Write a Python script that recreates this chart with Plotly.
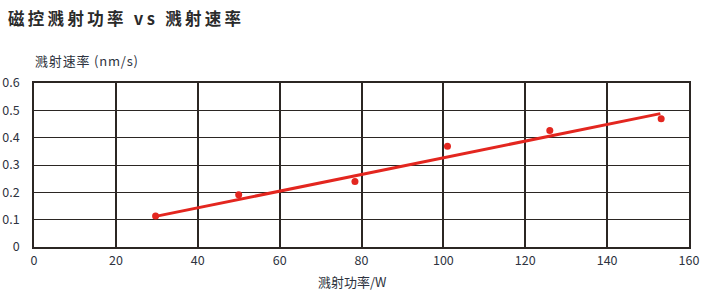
import plotly.graph_objects as go

power = [29.7, 50.0, 78.4, 101.0, 126.0, 153.2]
rate = [0.113, 0.191, 0.240, 0.369, 0.426, 0.469]
fit_x = [29.7, 153.0]
fit_y = [0.112, 0.488]

x_ticks = [0, 20, 40, 60, 80, 100, 120, 140, 160]
y_ticks = [0, 0.1, 0.2, 0.3, 0.4, 0.5, 0.6]
y_tick_text = ["0", "0.1", "0.2", "0.3", "0.4", "0.5", "0.6"]

title_text = "磁控溅射功率 vs 溅射速率"
y_title = "溅射速率 (nm/s)"
x_title = "溅射功率/W"

RED = "#e3261f"
GRID = "#2b2623"
TXT = "#2e3340"
FONT = "Noto Sans CJK SC"

def spaced(s, sep="\u200a"):
    return sep.join(list(s))

fig = go.Figure()
fig.add_trace(go.Scatter(x=fit_x, y=fit_y, mode="lines",
                         line=dict(color=RED, width=3), showlegend=False, hoverinfo="skip"))
fig.add_trace(go.Scatter(x=power, y=rate, mode="markers",
                         marker=dict(color=RED, size=7), showlegend=False))

fig.update_layout(
    width=708, height=297,
    margin=dict(l=34, r=19, t=83, b=50),
    paper_bgcolor="white", plot_bgcolor="white",
    font=dict(family=FONT, size=12, color=TXT),
    showlegend=False,
)
fig.update_xaxes(range=[0, 160], tickvals=x_ticks, ticktext=[str(v) for v in x_ticks],
                 showgrid=True, gridcolor=GRID, gridwidth=1.8,
                 showline=True, linecolor=GRID, linewidth=2, mirror=True,
                 zeroline=False, ticks="", tickfont=dict(size=12.5, color=TXT),
                 ticklabelstandoff=1, automargin=False)
fig.update_yaxes(range=[0, 0.6], tickvals=y_ticks, ticktext=y_tick_text,
                 showgrid=True, gridcolor=GRID, gridwidth=1.3,
                 showline=True, linecolor=GRID, linewidth=1.8, mirror=True,
                 zeroline=False, ticks="", tickfont=dict(size=12.5, color=TXT),
                 ticklabelstandoff=10, automargin=False)

fig.add_annotation(text=spaced(title_text, "\u2009"), xref="paper", yref="paper",
                   x=0, y=1, xanchor="left", yanchor="middle",
                   xshift=-28, yshift=65,
                   showarrow=False,
                   font=dict(family=FONT, size=16.5, color="#2a2a2a", weight="bold"))
fig.add_annotation(text=spaced(y_title, "\u200a"), xref="paper", yref="paper",
                   x=0, y=1, xanchor="left", yanchor="middle",
                   xshift=-1, yshift=23, showarrow=False,
                   font=dict(family=FONT, size=13, color=TXT))
fig.add_annotation(text=x_title, xref="paper", yref="paper",
                   x=0.5, y=0, xanchor="center", yanchor="middle",
                   xshift=-9, yshift=-34, showarrow=False,
                   font=dict(family=FONT, size=13, color=TXT))

fig.write_html("out.html")
